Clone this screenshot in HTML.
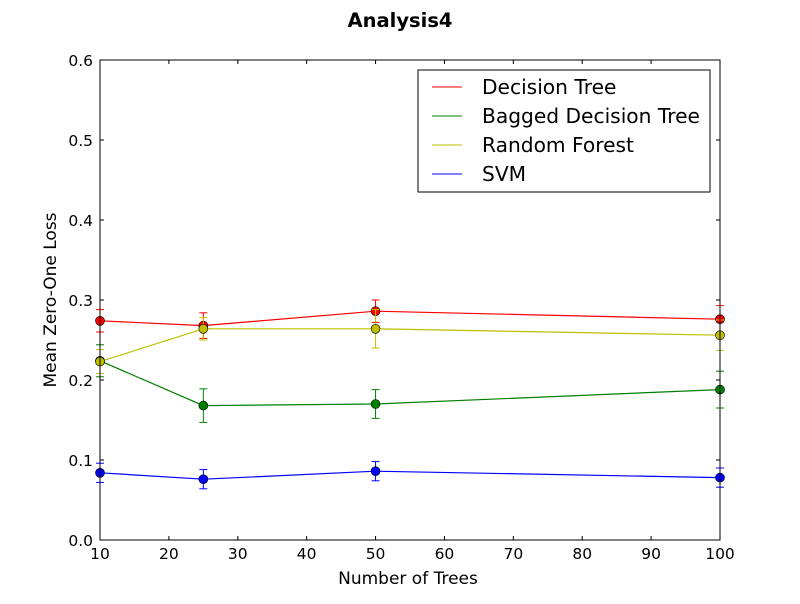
<!DOCTYPE html>
<html><head><meta charset="utf-8"><style>
body{margin:0;background:#fff;font-family:"DejaVu Sans","Liberation Sans",sans-serif}
</style></head><body>
<svg id="chart" width="800" height="600" xmlns="http://www.w3.org/2000/svg" font-family="DejaVu Sans, Liberation Sans, sans-serif">
<rect width="800" height="600" fill="#fff"/>
<text x="400" y="27" text-anchor="middle" font-size="19.5" font-weight="bold">Analysis4</text>
<g id="marks"></g>
<rect x="100" y="60" width="620" height="480" fill="none" stroke="#000" stroke-width="1"/>
<g id="ticks"></g>
<text x="408" y="584" text-anchor="middle" font-size="17">Number of Trees</text>
<text transform="translate(56,300) rotate(-90)" text-anchor="middle" font-size="17">Mean Zero-One Loss</text>
<g>
<rect x="418" y="70" width="292" height="122" fill="#fff" stroke="#000"/>
<line x1="432" y1="87" x2="462" y2="87" stroke="#ff0000"/>
<text x="482" y="94" font-size="20.2">Decision Tree</text>
<line x1="432" y1="116" x2="462" y2="116" stroke="#008000"/>
<text x="482" y="123" font-size="20.2">Bagged Decision Tree</text>
<line x1="432" y1="145" x2="462" y2="145" stroke="#bfbf00"/>
<text x="482" y="152" font-size="20.2">Random Forest</text>
<line x1="432" y1="174" x2="462" y2="174" stroke="#0000ff"/>
<text x="482" y="181" font-size="20.2">SVM</text>
</g>
</svg>
<script>
const categories=[10,25,50,100];
const dtValues=[0.274,0.268,0.286,0.276];
const dtErr=[0.014,0.016,0.014,0.017];
const bagValues=[0.224,0.168,0.170,0.188];
const bagErr=[0.020,0.021,0.018,0.023];
const rfValues=[0.223,0.264,0.264,0.256];
const rfErr=[0.015,0.014,0.024,0.019];
const svmValues=[0.084,0.076,0.086,0.078];
const svmErr=[0.012,0.012,0.012,0.012];
const xTicks=[10,20,30,40,50,60,70,80,90,100];
const yTicks=[0,0.1,0.2,0.3,0.4,0.5,0.6];
const NS="http://www.w3.org/2000/svg";
const xs=v=>100+(v-10)/90*620;
const ys=v=>540-v/0.6*480;
function mk(tag,attrs,parent){const e=document.createElementNS(NS,tag);for(const k in attrs)e.setAttribute(k,attrs[k]);parent.appendChild(e);return e;}
const marks=document.getElementById('marks');
const series=[["decision-tree",dtValues,dtErr,"#ff0000"],["bagged",bagValues,bagErr,"#008000"],["random-forest",rfValues,rfErr,"#bfbf00"],["svm",svmValues,svmErr,"#0000ff"]];
series.forEach(([name,vals,errs,col])=>{
  const pl=mk('polyline',{points:vals.map((v,i)=>xs(categories[i])+','+ys(v)).join(' '),fill:'none',stroke:col,'stroke-width':1.2},marks);
  
  
  vals.forEach((v,i)=>{
    const x=xs(categories[i]);
    const g=mk('g',{},marks);
    
    
    mk('line',{x1:x,x2:x,y1:ys(v-errs[i]),y2:ys(v+errs[i]),stroke:col},g);
    mk('line',{x1:x-4,x2:x+4,y1:ys(v-errs[i]),y2:ys(v-errs[i]),stroke:col},g);
    mk('line',{x1:x-4,x2:x+4,y1:ys(v+errs[i]),y2:ys(v+errs[i]),stroke:col},g);
    const c=mk('circle',{cx:x,cy:ys(v),r:4.5,fill:col,stroke:'#000','stroke-width':0.6},marks);
    
    
  });
});
const tk=document.getElementById('ticks');
xTicks.forEach(t=>{const x=xs(t);
  mk('line',{x1:x,x2:x,y1:540,y2:536,stroke:'#000'},tk);
  mk('line',{x1:x,x2:x,y1:60,y2:64,stroke:'#000'},tk);
  const l=mk('text',{x:x,y:559,'text-anchor':'middle','font-size':15.5},tk);l.textContent=t;
  
  
});
yTicks.forEach(t=>{const y=ys(t);
  mk('line',{x1:100,x2:104,y1:y,y2:y,stroke:'#000'},tk);
  mk('line',{x1:716,x2:720,y1:y,y2:y,stroke:'#000'},tk);
  const l=mk('text',{x:93,y:y+6,'text-anchor':'end','font-size':15.5},tk);l.textContent=t.toFixed(1);
  
  
});
</script>
</body></html>
